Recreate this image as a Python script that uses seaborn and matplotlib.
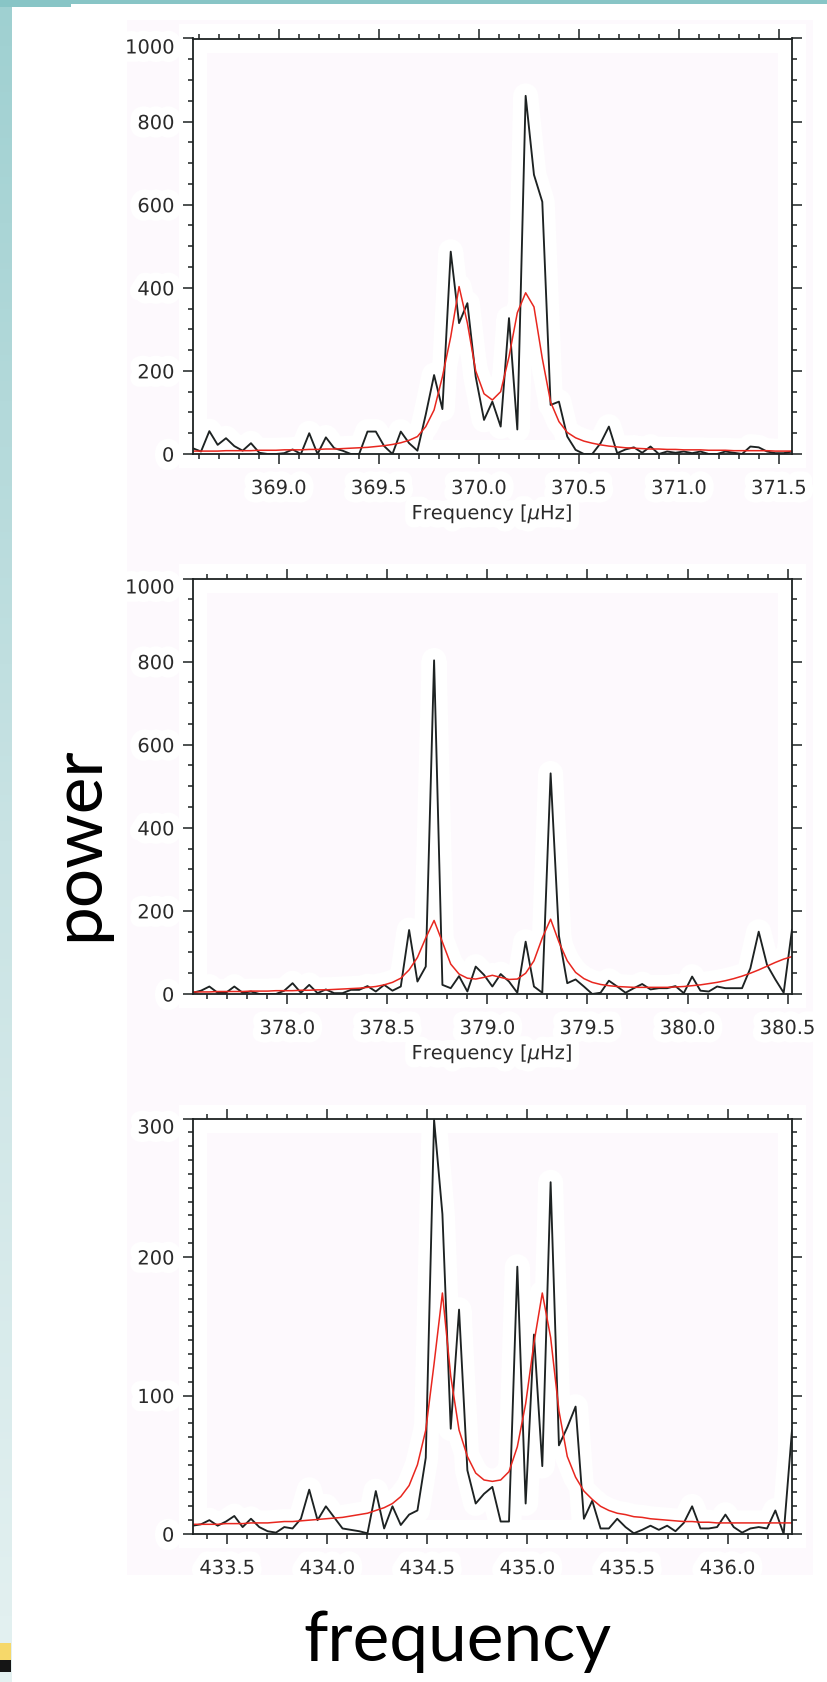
import numpy as np
import pandas as pd
import matplotlib
matplotlib.use("Agg")
import matplotlib.pyplot as plt
import seaborn as sns
from matplotlib import patheffects as pe
from matplotlib.patches import Rectangle
from matplotlib.colors import LinearSegmentedColormap
from matplotlib.ticker import MultipleLocator, FormatStrFormatter

# ---------------------------------------------------------------------------
# Power spectra of three mode multiplets (black) with their Lorentzian fits (red)
# Each spectrum is sampled on a uniform frequency grid: first bin + bin width (uHz)
# ---------------------------------------------------------------------------
bin_width = 0.0416
start_a = 368.570
start_b = 377.527
start_c = 433.327

power_a = [14, 6, 55, 22, 38, 19, 8, 26, 3, 0,
           0, 2, 11, 0, 50, 0, 40, 14, 8, 0,
           0, 54, 54, 19, 0, 54, 26, 8, 95, 190,
           108, 487, 315, 363, 186, 82, 126, 66, 327, 59,
           862, 672, 607, 118, 126, 42, 10, 0, 0, 26,
           66, 2, 11, 16, 3, 18, 0, 6, 3, 6,
           2, 6, 0, 0, 6, 3, 0, 18, 16, 6,
           2, 2, 6]
fit_a = [7, 7, 7, 7, 8, 8, 8, 8, 9, 9,
         9, 10, 10, 10, 11, 11, 12, 12, 13, 14,
         15, 16, 18, 20, 23, 27, 33, 42, 66, 106,
         186, 282, 403, 315, 200, 145, 130, 150, 234, 340,
         388, 354, 230, 125, 78, 52, 39, 31, 26, 22,
         19, 17, 15, 14, 13, 12, 12, 11, 11, 10,
         10, 10, 9, 9, 9, 8, 8, 8, 8, 8,
         7, 7, 7]

power_b = [3, 8, 18, 3, 3, 18, 3, 6, 0, 0,
           0, 8, 26, 3, 22, 2, 11, 2, 2, 10,
           10, 19, 6, 22, 8, 18, 154, 30, 66, 803,
           22, 14, 43, 6, 66, 46, 18, 48, 30, 3,
           126, 18, 3, 531, 140, 26, 35, 18, 0, 3,
           32, 18, 3, 14, 24, 11, 14, 14, 19, 2,
           42, 8, 6, 18, 14, 14, 14, 62, 150, 70,
           35, 3, 155]
fit_b = [5, 5, 5, 6, 6, 6, 6, 7, 7, 7,
         8, 8, 8, 9, 9, 10, 10, 11, 12, 13,
         14, 16, 18, 22, 28, 38, 58, 88, 135, 177,
         125, 72, 48, 38, 36, 40, 45, 40, 35, 36,
         50, 80, 135, 180, 125, 80, 52, 37, 28, 23,
         20, 18, 17, 16, 16, 16, 16, 16, 17, 18,
         20, 22, 25, 28, 32, 37, 43, 50, 58, 67,
         76, 84, 90]

power_c = [6, 7, 10, 6, 9, 13, 5, 11, 5, 2,
           1, 5, 4, 11, 32, 10, 20, 12, 4, 3,
           2, 0.5, 31, 4, 20, 6.5, 14, 17, 55, 299,
           231, 76, 162, 46, 22, 29, 34, 9, 9, 193,
           22, 144, 49, 254, 64, 77, 92, 11, 24, 4,
           4, 11, 5, 0.5, 3, 6, 3, 6, 2, 8,
           20, 4, 4, 5, 14, 5, 1, 4, 5, 4,
           17, 0, 75]
fit_c = [7, 7, 7, 7, 7.5, 7.5, 7.5, 8, 8, 8,
         8.5, 9, 9, 9.5, 10, 10.5, 11, 11.5, 12, 13,
         14, 15, 17, 19, 22, 27, 35, 50, 75, 123,
         174, 114, 75, 56, 44, 39, 38, 39, 45, 63,
         94, 138, 174, 142, 89, 56, 41, 31, 25, 20,
         17, 15, 14, 12.5, 12, 11, 10.5, 10, 9.5, 9,
         9, 8.5, 8.5, 8, 8, 8, 8, 8, 8, 8,
         8, 8, 8]

# axis settings per panel: (y max, y major step, y minor step)
y_max = [1000, 1000, 300]
y_major = [200, 200, 100]
y_minor = [50, 50, 10]
x_label = "Frequency [$\\mu$Hz]"
side_label = "power"
bottom_label = "frequency"


def spectrum_frame(start, power, fit):
    freq = start + bin_width * np.arange(len(power))
    return pd.DataFrame({"freq": freq, "power": power, "fit": fit})


frames = [spectrum_frame(start_a, power_a, fit_a),
          spectrum_frame(start_b, power_b, fit_b),
          spectrum_frame(start_c, power_c, fit_c)]

# ---------------------------------------------------------------------------
W, H, DPI = 828, 1682, 100
sns.set_theme(style="white")
plt.rcParams["font.family"] = ["DejaVu Sans"]
plt.rcParams["mathtext.fontset"] = "dejavusans"

fig = plt.figure(figsize=(W / DPI, H / DPI), dpi=DPI, facecolor="white")


def fx(px):
    return px / W


def fy(py):
    return 1 - py / H


PINK = "#fdf9fd"
TEAL = "#88c5c6"
INK = "#1d2222"
RED = "#e8271f"
HALO = [pe.withStroke(linewidth=12, foreground="white")]

# slide decoration: teal border strips and a clipped logo corner
strip = fig.add_axes([0, 0, fx(11.6), 1], zorder=-5)
grad = np.linspace(0, 1, 256).reshape(-1, 1)
strip.imshow(grad, aspect="auto",
             cmap=LinearSegmentedColormap.from_list("edge", ["#9fd0d1", "#c9e3e4", "#e4f1f1"]),
             extent=[0, 1, 0, 1], origin="upper")
strip.set_axis_off()
fig.add_artist(Rectangle((0, fy(3.6)), 1, 3.6 / H, transform=fig.transFigure,
                         fc=TEAL, ec="none", zorder=-4))
fig.add_artist(Rectangle((0, fy(7)), fx(71), 7 / H, transform=fig.transFigure,
                         fc=TEAL, ec="none", zorder=-4))
fig.add_artist(Rectangle((0, fy(1660)), fx(11), 17 / H, transform=fig.transFigure,
                         fc="#f6d86a", ec="none", zorder=-3))
fig.add_artist(Rectangle((0, fy(1672)), fx(11), 12 / H, transform=fig.transFigure,
                         fc="#151515", ec="none", zorder=-3))

# tinted background of the plotted spectra
fig.add_artist(Rectangle((fx(127), fy(1575)), fx(813 - 127), (1575 - 20) / H,
                         transform=fig.transFigure, fc=PINK, ec="none", zorder=-3))

AX_LEFT, AX_W, AX_H = 192.7, 599.3, 415.5
panel_bottoms = [454.0, 994.0, 1534.0]
HB = 14  # white band around the frame, px

for k, (df, bottom) in enumerate(zip(frames, panel_bottoms)):
    fig.add_artist(Rectangle((fx(AX_LEFT - HB), fy(bottom + HB)), fx(AX_W + 2 * HB),
                             (AX_H + 2 * HB) / H, transform=fig.transFigure,
                             fc="white", ec="none", zorder=-2))
    ax = fig.add_axes([fx(AX_LEFT), fy(bottom), fx(AX_W), AX_H / H])
    ax.set_facecolor("white")
    ix, iy = HB / AX_W, HB / AX_H
    ax.add_patch(Rectangle((ix, iy), 1 - 2 * ix, 1 - 2 * iy, transform=ax.transAxes,
                           fc=PINK, ec="none", zorder=0.5))

    # white glow under the curves
    for col in ("power", "fit"):
        sns.lineplot(data=df, x="freq", y=col, ax=ax, color="white", linewidth=18,
                     zorder=1, solid_joinstyle="round", solid_capstyle="round")
    sns.lineplot(data=df, x="freq", y="power", ax=ax, color=INK, linewidth=1.35, zorder=3)
    sns.lineplot(data=df, x="freq", y="fit", ax=ax, color=RED, linewidth=1.1, zorder=4)

    ax.set_xlim(df["freq"].iloc[0], df["freq"].iloc[-1])
    ax.set_ylim(0, y_max[k])
    ax.xaxis.set_major_locator(MultipleLocator(0.5))
    ax.xaxis.set_minor_locator(MultipleLocator(0.1))
    ax.xaxis.set_major_formatter(FormatStrFormatter("%.1f"))
    ax.yaxis.set_major_locator(MultipleLocator(y_major[k]))
    ax.yaxis.set_minor_locator(MultipleLocator(y_minor[k]))

    for sp in ax.spines.values():
        sp.set_visible(True)
        sp.set_color(INK)
        sp.set_linewidth(1.3)
        sp.set_zorder(5)
    ax.tick_params(which="both", direction="out", top=True, right=True, bottom=True,
                   left=True, labeltop=False, labelright=False, color=INK,
                   labelcolor="#2a2a2a", labelsize=14, width=1.1)
    ax.tick_params(which="major", length=7.5)
    ax.tick_params(which="minor", length=3.6)
    ax.tick_params(axis="x", which="major", pad=10.5)
    ax.tick_params(axis="y", which="major", pad=5.8)

    ax.set_ylabel("")
    if k < 2:
        ax.set_xlabel(x_label, fontsize=14, color="#2a2a2a", labelpad=3)
        ax.xaxis.label.set_path_effects(HALO)
    else:
        ax.set_xlabel("")

    for lbl in ax.get_xticklabels() + ax.get_yticklabels():
        lbl.set_path_effects(HALO)
    # the top value label hangs below its tick
    locs = ax.yaxis.get_majorticklocs()
    ticks = ax.yaxis.get_major_ticks()
    for loc, tick in zip(locs, ticks):
        if abs(loc - y_max[k]) < 1e-6:
            tick.label1.set_verticalalignment("top")

fig.text(fx(79), fy(844), side_label, rotation=90, ha="center", va="center",
         fontsize=50, family=["Lato", "DejaVu Sans"], color="black")
fig.text(fx(457), fy(1661), bottom_label, ha="center", va="baseline",
         fontsize=50, family=["Lato", "DejaVu Sans"], color="black")

fig.savefig("out.png", dpi=DPI, facecolor="white")
